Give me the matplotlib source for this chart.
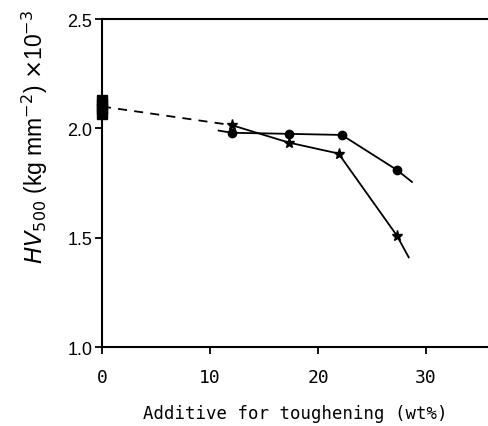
import matplotlib
matplotlib.use("Agg")
import matplotlib.pyplot as plt

# data
base_x = [0, 0, 0, 0]
base_y = [2.065, 2.09, 2.11, 2.13]
dash_x = [0, 12.0]
dash_y = [2.10, 2.015]
circle_x = [12.0, 17.3, 22.2, 27.3]
circle_y = [1.98, 1.975, 1.97, 1.81]
circle_line_x = [10.8, 12.0, 17.3, 22.2, 27.3, 28.7]
circle_line_y = [1.99, 1.98, 1.975, 1.97, 1.81, 1.755]
star_x = [12.0, 17.3, 21.9, 27.3]
star_y = [2.015, 1.935, 1.885, 1.51]
star_line_x = [12.0, 17.3, 21.9, 27.3, 28.4]
star_line_y = [2.015, 1.935, 1.885, 1.51, 1.41]
xticks = [0, 10, 20, 30]
yticks = [1.0, 1.5, 2.0, 2.5]

fig = plt.figure(figsize=(4.88, 4.27), dpi=100)
ax = fig.add_axes([0.209, 0.185, 0.791, 0.768])

ax.plot(dash_x, dash_y, color='black', lw=1.3, ls=(0, (5, 4)))
ax.plot(circle_line_x, circle_line_y, color='black', lw=1.3)
ax.plot(circle_x, circle_y, 'o', color='black', ms=6)
ax.plot(star_line_x, star_line_y, color='black', lw=1.3)
ax.plot(star_x, star_y, '*', color='black', ms=8)
ax.plot(base_x, base_y, 's', color='black', ms=6.5, clip_on=False, zorder=5)

ax.set_xlim(0, 35.74)
ax.set_ylim(1.0, 2.5)
ax.set_xticks(xticks)
ax.set_xticklabels([str(t) for t in xticks], family='DejaVu Sans Mono', fontsize=13)
ax.set_yticks(yticks)
ax.set_yticklabels([f"{t:.1f}" for t in yticks], family='Liberation Sans', fontsize=13)
ax.tick_params(axis='both', direction='out', length=5, width=1.3, color='black')
ax.tick_params(axis='x', pad=10)
ax.tick_params(axis='y', pad=2)

for s in ['left', 'top', 'bottom']:
    ax.spines[s].set_linewidth(1.5)
ax.spines['right'].set_visible(False)

ax.set_xlabel('Additive for toughening (wt%)', family='DejaVu Sans Mono', fontsize=12.5, labelpad=13)
ax.set_ylabel(r'$\mathit{HV}_{500}$ (kg mm$^{-2}$) $\times$10$^{-3}$', family='Liberation Sans', fontsize=16.5)
ax.yaxis.set_label_coords(-0.135, 0.645)

fig.savefig('out.png', dpi=100)
